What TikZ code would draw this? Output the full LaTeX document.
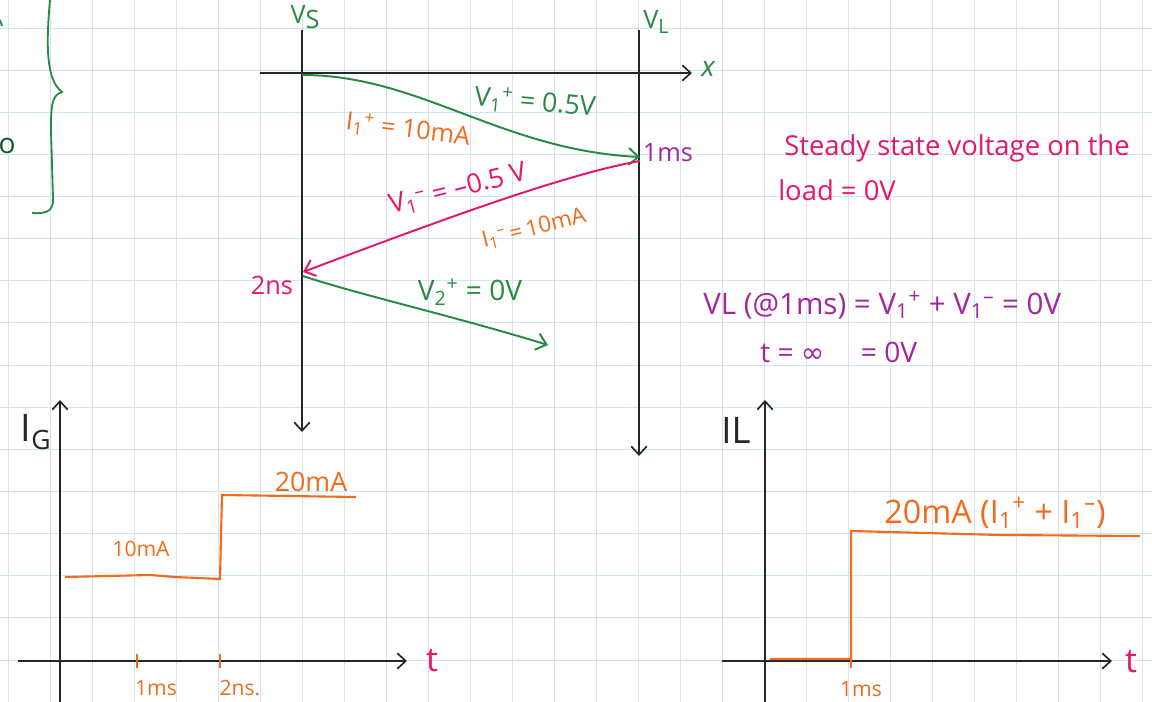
\documentclass[tikz,border=0pt]{standalone}
\usepackage{fontspec}
\setmainfont{Open Sans}
\newfontfamily\djv{DejaVu Sans}
\usetikzlibrary{arrows.meta}
\definecolor{grd}{HTML}{CFE6F2}
\definecolor{gr}{HTML}{2A8A45}
\definecolor{orn}{HTML}{F26B1D}
\definecolor{pnk}{HTML}{E5176B}
\definecolor{prp}{HTML}{A1279B}
\definecolor{ink}{HTML}{262626}
\newcommand\supb[2]{\textsubscript{#1}\textsuperscript{#2}}
\newcommand\fsz[1]{\fontsize{#1}{#1}\selectfont}
\begin{document}
\begin{tikzpicture}[x=0.025cm,y=-0.025cm,
  ax/.style={ink, line width=1.2pt, -{Straight Barb[length=6pt,width=11pt,line width=1.2pt]}},
  wav/.style={line width=1.4pt, -{Straight Barb[length=7pt,width=12pt,line width=1.4pt]}},
  stp/.style={orn, line width=1.5pt},
  hw/.style={inner sep=0pt, font=\fsz{18}},
  hws/.style={inner sep=0pt, font=\fsz{15}},
  hwb/.style={inner sep=0pt, font=\fsz{24}}]
% background and grid
\fill[white] (0,0) rectangle (1152,702);
\useasboundingbox (0,0) rectangle (1152,702);
\foreach \k in {0,...,27} \draw[grd, line width=0.6pt] (8+42*\k,0) -- (8+42*\k,702);
\foreach \k in {0,...,16} \draw[grd, line width=0.6pt] (0,28+42.13*\k) -- (1152,28+42.13*\k);

% left edge fragments
\draw[gr, line width=1.3pt] (50,0) .. controls (46,45) and (46,80) .. (62,92)
  .. controls (52,95) and (51,105) .. (51,130) -- (53,198)
  .. controls (54,212) and (45,214) .. (32,213);
\node[hw, text=gr!60!black, font=\fsz{20}] (oo) at (7,146) {o};
\draw[gr, line width=1.3pt] (0,20) -- (2,26);

% space-time diagram axes
\coordinate (vsT) at (302,30);  \coordinate (vsB) at (302,432);
\coordinate (vlT) at (639,30);  \coordinate (vlB) at (639,456);
\coordinate (xL) at (260,73);   \coordinate (xR) at (692,73);
\draw[ax] (vsT) -- (vsB);
\draw[ax] (vlT) -- (vlB);
\draw[ax] (xL) -- (xR);
\node[hw, text=gr] (vs) at (305,17) {V\raisebox{-3pt}{S}};
\node[hw, text=gr] (vl) at (656,22) {V\raisebox{-3pt}{\fsz{14}L}};
\node[hw, text=gr, font=\fsz{20}\itshape] (xl) at (708,69) {x};

% bounce lines
\coordinate (p0) at (302,75);
\coordinate (p1) at (640,157);
\coordinate (p1b) at (640,161);
\coordinate (p2) at (303,272);
\coordinate (p2b) at (303,276);
\coordinate (p3) at (548,345);
\draw[wav, gr] (p0) .. controls (420,75) and (500,150) .. (p1);
\draw[wav, pnk] (p1b) .. controls (560,175) and (420,228) .. (p2);
\draw[wav, gr] (p2b) .. controls (360,295) and (450,315) .. (p3);

\node[hw, text=gr, rotate=-5, font=\fsz{19}] (v1p) at (535,103) {V\supb{1}{+} = 0.5V};
\node[hw, text=orn, rotate=-7] (i1p) at (408,130) {I\supb{1}{+} = 10mA};
\node[hw, text=prp] (t1) at (668,153) {1ms};
\node[hw, text=pnk, rotate=14, font=\fsz{19}] (v1m) at (458,190) {V\supb{1}{–} = –0.5 V};
\node[hw, text=orn, rotate=14, font=\fsz{16}] (i1m) at (534,229) {I\supb{1}{–}\,=\,10mA};
\node[hw, text=pnk] (t2) at (272,285) {2ns};
\node[hw, text=gr, font=\fsz{20}] (v2p) at (470,292) {V\supb{2}{+} = 0V};

% notes
\node[hw, text=pnk, anchor=west, font=\fsz{19.5}] (ss1) at (784,148) {Steady state voltage on the};
\node[hw, text=pnk, anchor=west, font=\fsz{19.5}] (ss2) at (778,190) {load = 0V};
\node[hw, text=prp, anchor=west, font=\fsz{21}] (vl1) at (703,305) {VL (@1ms) = V\supb{1}{+} + V\supb{1}{–} = 0V};
\node[hw, text=prp, anchor=west, font=\fsz{20}] (vl2) at (760,352) {t = {\djv ∞}\hspace{26pt}= 0V};

% I_G plot
\coordinate (gyB) at (60,702);  \coordinate (gyT) at (60,400);
\coordinate (gxL) at (18,661);  \coordinate (gxR) at (407,661);
\draw[ax] (gyB) -- (gyT);
\draw[ax] (gxL) -- (gxR);
\node[hwb, text=ink, font=\fsz{27}] (ig) at (36,432) {I\textsubscript{G}};
\node[hwb, text=pnk] (tg) at (432,661) {t};
\coordinate (g1a) at (137,654); \coordinate (g1b) at (137,668);
\coordinate (g2a) at (220,654); \coordinate (g2b) at (220,668);
\draw[stp] (g1a) -- (g1b);
\draw[stp] (g2a) -- (g2b);
\coordinate (s0) at (65,577); \coordinate (s1) at (220,579);
\coordinate (s2) at (222,495); \coordinate (s3) at (356,497);
\draw[stp] (s0) -- (150,575) -- (175,577) -- (s1) -- (s2) -- (s3);
\node[hws, text=orn] (a10) at (141,549) {10mA};
\node[hw, text=orn, font=\fsz{19}] (a20) at (311,482) {20mA};
\node[hws, text=orn] (k1) at (156,688) {1ms};
\node[hws, text=orn] (k2) at (240,688) {2ns.};

% I_L plot
\coordinate (lyB) at (765,702); \coordinate (lyT) at (765,400);
\coordinate (lxL) at (722,661); \coordinate (lxR) at (1112,661);
\draw[ax] (lyB) -- (lyT);
\draw[ax] (lxL) -- (lxR);
\node[hwb, text=ink, font=\fsz{26}] (il) at (736,430) {IL};
\node[hwb, text=pnk] (tl) at (1131,662) {t};
\coordinate (r0) at (770,659); \coordinate (r1) at (851,659);
\coordinate (r2) at (851,531); \coordinate (r3) at (1140,536);
\draw[stp] (r0) -- (r1) -- (r2) -- (1000,535) -- (r3);
\draw[stp] (851,654) -- (851,668);
\node[hw, text=orn, anchor=west, font=\fsz{23}] (lab) at (884,513) {20mA (I\supb{1}{+} + I\supb{1}{–})};
\node[hws, text=orn] (k3) at (861,689) {1ms};
\end{tikzpicture}
\end{document}
